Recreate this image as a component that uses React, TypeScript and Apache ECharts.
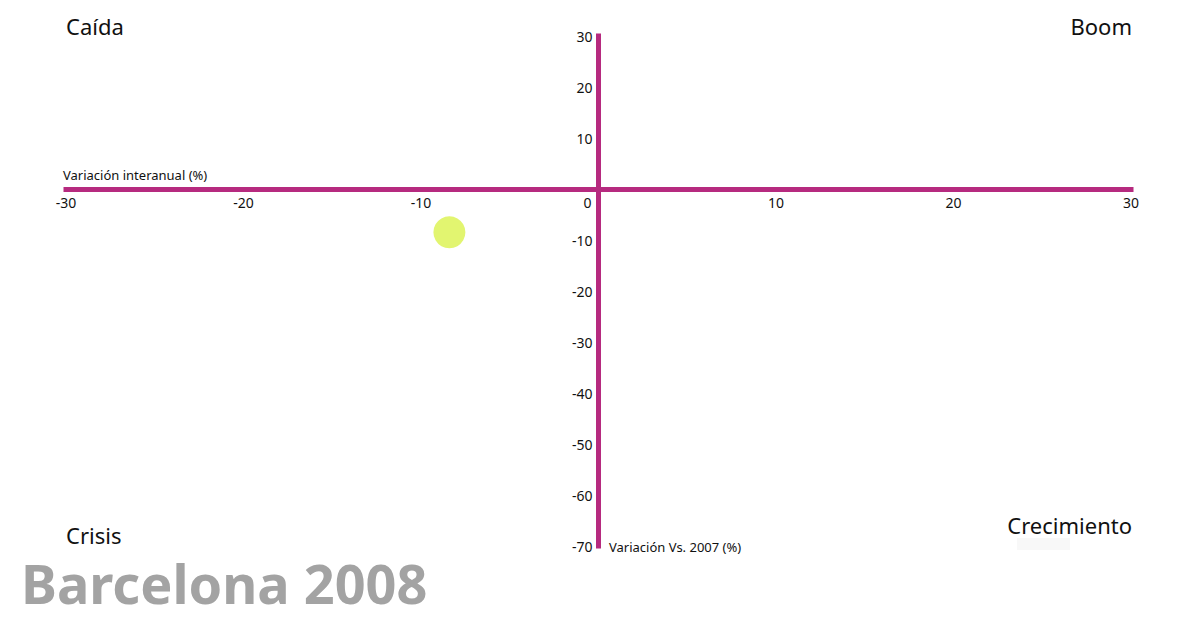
import { useEffect, useRef } from "react";
import * as echarts from "echarts";

// quadrant chart: variación interanual vs variación respecto a 2007
const xTicks = [-30, -20, -10, 0, 10, 20, 30];
const yTicks = [30, 20, 10, 0, -10, -20, -30, -40, -50, -60, -70];
const cityNames = ["Barcelona"];
const interanual = [-8.4];
const vs2007 = [-8.5];
const quadrantLabels = ["Caída", "Boom", "Crisis", "Crecimiento"];
const titleText = "Barcelona 2008";

const FONT = "'Noto Sans', 'Open Sans', sans-serif";
const AXIS_COLOR = "#b62a7f";

const GRID_LEFT = 66;
const GRID_RIGHT = 69;
const GRID_TOP = 36;
const GRID_BOTTOM = 81;
const W = 1200;
const H = 627;

export default function App() {
  const chartRef = useRef<HTMLDivElement | null>(null);

  useEffect(() => {
    if (!chartRef.current) return;
    const chart = echarts.init(chartRef.current, undefined, { renderer: "svg" });

    const xMin = xTicks[0];
    const xMax = xTicks[xTicks.length - 1];
    const yMin = yTicks[yTicks.length - 1];
    const yMax = yTicks[0];
    const plotW = W - GRID_LEFT - GRID_RIGHT;
    const plotH = H - GRID_TOP - GRID_BOTTOM;
    // shift axes so that they cross at zero, labels included
    const xOffset = -((0 - yMin) / (yMax - yMin)) * plotH;
    const yOffset = -((0 - xMin) / (xMax - xMin)) * plotW;

    const option = {
      animation: false,
      backgroundColor: "#ffffff",
      textStyle: { fontFamily: FONT },
      grid: { left: GRID_LEFT, right: GRID_RIGHT, top: GRID_TOP, bottom: GRID_BOTTOM },
      xAxis: {
        type: "value",
        min: xMin,
        max: xMax,
        interval: 10,
        position: "bottom",
        offset: xOffset,
        axisLine: {
          onZero: false,
          lineStyle: { color: AXIS_COLOR, width: 5, cap: "square" },
        },
        axisTick: { show: false },
        splitLine: { show: false },
        axisLabel: {
          color: "#111",
          fontSize: 14,
          margin: 6,
          fontFamily: FONT,
          formatter: (v: number) => (v === 0 ? "{z|0}" : String(v)),
          rich: { z: { fontSize: 14, color: "#111", padding: [0, 22, 0, 0], fontFamily: FONT } },
        },
      },
      yAxis: {
        type: "value",
        min: yMin,
        max: yMax,
        interval: 10,
        position: "left",
        offset: yOffset,
        axisLine: {
          onZero: false,
          lineStyle: { color: AXIS_COLOR, width: 5, cap: "square" },
        },
        axisTick: { show: false },
        splitLine: { show: false },
        axisLabel: {
          color: "#111",
          fontSize: 14,
          margin: 6,
          fontFamily: FONT,
          formatter: (v: number) => (v === 0 ? "" : String(v)),
        },
      },
      series: [
        {
          type: "scatter",
          name: cityNames[0],
          symbolSize: 32,
          itemStyle: { color: "#e2f570", opacity: 1 },
          data: interanual.map((x, i) => [x, vs2007[i]]),
        },
      ],
      graphic: [
        {
          type: "text",
          left: 63,
          top: 168,
          style: { text: "Variación interanual (%)", fill: "#111", font: `13px ${FONT}` },
        },
        {
          type: "text",
          left: 609,
          top: 540,
          style: { text: "Variación Vs. 2007 (%)", fill: "#111", font: `13px ${FONT}` },
        },
        {
          type: "text",
          left: 66,
          top: 15,
          style: { text: quadrantLabels[0], fill: "#111", font: `22px ${FONT}` },
        },
        {
          type: "text",
          right: 68,
          top: 15,
          style: { text: quadrantLabels[1], fill: "#111", font: `22px ${FONT}` },
        },
        {
          type: "text",
          left: 66,
          top: 524,
          style: { text: quadrantLabels[2], fill: "#111", font: `22px ${FONT}`, lineHeight: 22 },
        },
        {
          type: "text",
          right: 68,
          top: 514,
          style: { text: quadrantLabels[3], fill: "#111", font: `22px ${FONT}` },
        },
        {
          type: "rect",
          left: 1017,
          top: 538,
          shape: { width: 53, height: 12 },
          style: { fill: "#f8f8f8" },
        },
        {
          type: "text",
          left: 21,
          top: 556,
          style: { text: titleText, fill: "#a3a3a3", font: `bold 54px ${FONT}`, lineHeight: 50 },
        },
      ],
    };

    chart.setOption(option);
    return () => chart.dispose();
  }, []);

  return (
    <div
      ref={chartRef}
      style={{ position: "absolute", left: 0, top: 0, width: W, height: H }}
    />
  );
}
